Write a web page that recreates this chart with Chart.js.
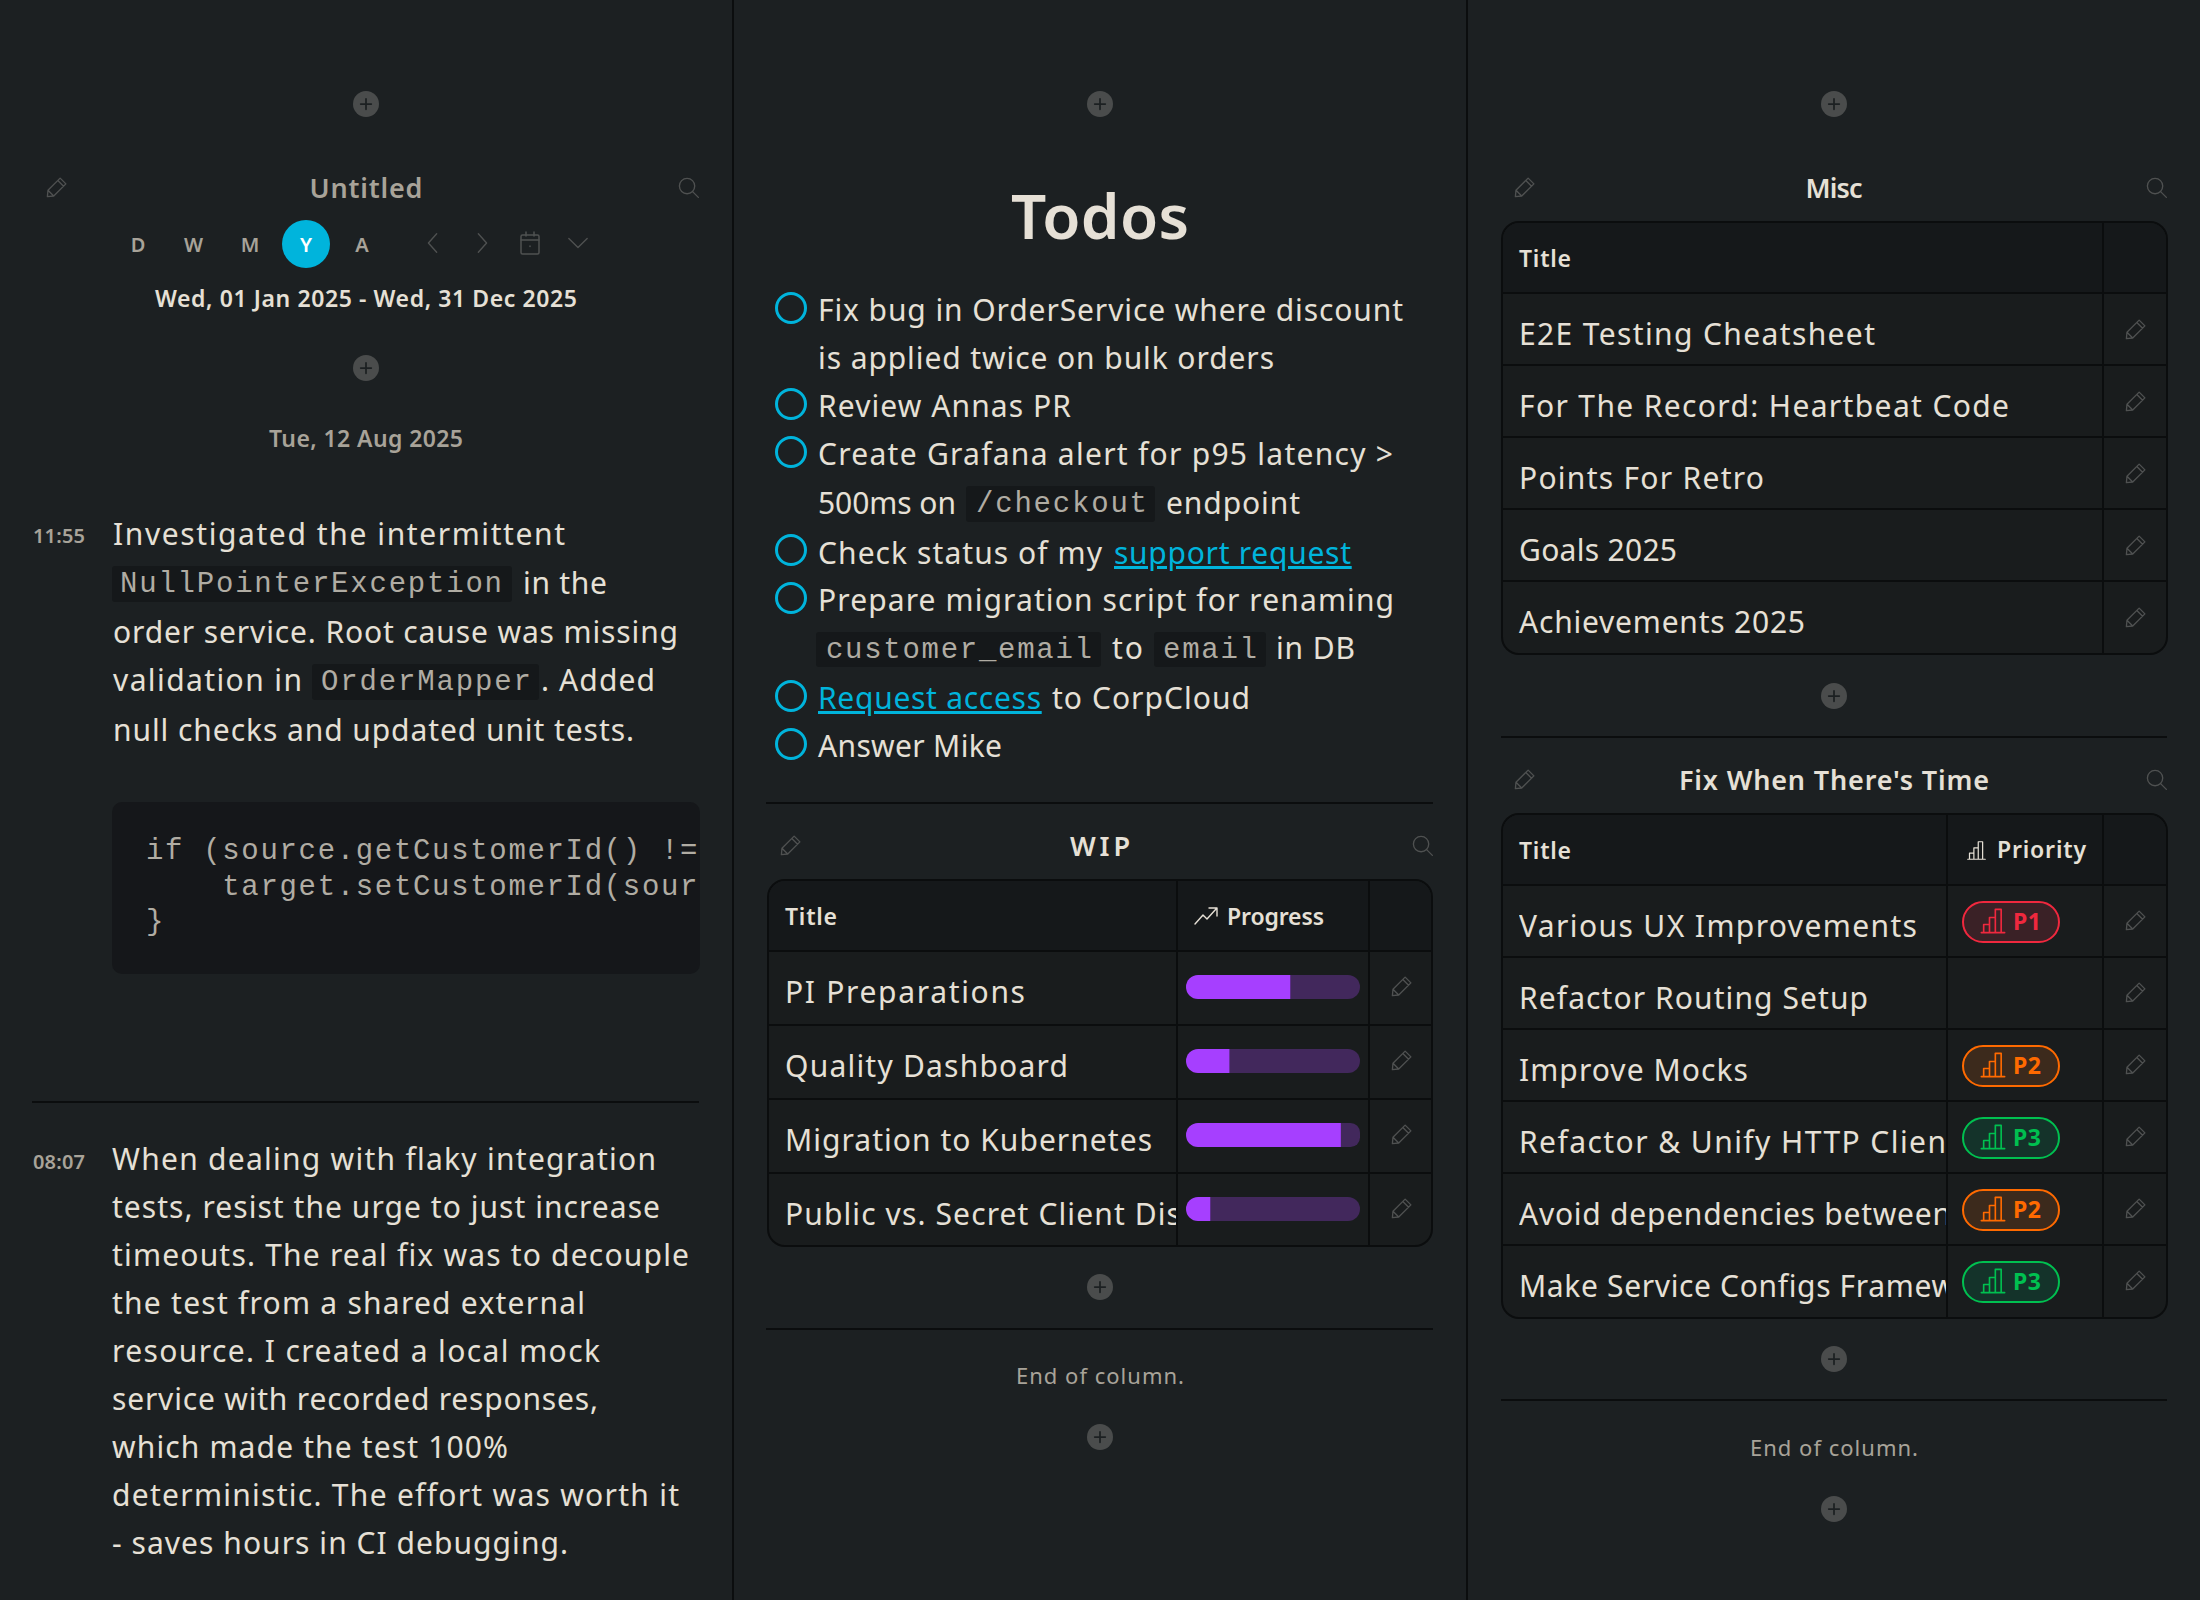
<!DOCTYPE html>
<html>
<head>
<meta charset="utf-8">
<script src="https://cdn.jsdelivr.net/npm/chart.js@4"></script>
<style>
  html, body { margin: 0; padding: 0; background: #1c2022; }
  #page { position: relative; width: 2200px; height: 1600px; overflow: hidden; background: #1c2022; font-family: "Noto Sans", Lato, sans-serif; color: #e6e0d6; }
  .t { position: absolute; white-space: pre; line-height: 40px; height: 40px; font-size: 30px; }
  .mono { font-family: "Liberation Mono", monospace; color: #b0aca3; }
  .box { position: absolute; box-sizing: border-box; }
  svg { position: absolute; overflow: visible; }
</style>
</head>
<body>
<div id="page"></div>
<script>
// data
const wipTitles = ["PI Preparations", "Quality Dashboard", "Migration to Kubernetes", "Public vs. Secret Client Dis"];
const wipWidths = [240, 283, 367, 396];
const wipProgress = [60, 25, 89, 14];
const miscTitles = ["E2E Testing Cheatsheet", "For The Record: Heartbeat Code", "Points For Retro", "Goals 2025", "Achievements 2025"];
const miscWidths = [356, 490, 245, 158, 286];
const fixTitles = ["Various UX Improvements", "Refactor Routing Setup", "Improve Mocks", "Refactor & Unify HTTP Clien", "Avoid dependencies between", "Make Service Configs Framew"];
const fixWidths = [398, 349, 229, 427, 432, 436];
const fixPriority = ["P1", null, "P2", "P3", "P2", "P3"];
const viewTabs = ["D", "W", "M", "Y", "A"];
const note1 = ["Investigated the intermittent", "order service. Root cause was missing", "null checks and updated unit tests."];
const note2 = ["When dealing with flaky integration", "tests, resist the urge to just increase", "timeouts. The real fix was to decouple", "the test from a shared external", "resource. I created a local mock", "service with recorded responses,", "which made the test 100%", "deterministic. The effort was worth it", "- saves hours in CI debugging."];
const note2Right = [656, 660, 689, 585, 600, 598, 508, 679, 568];
const codeLines = ["if (source.getCustomerId() !=", "    target.setCustomerId(sour", "}"];

const page = document.getElementById("page");
const LINE = "#0b0d0e", MUTED = "#a8a399", ICON = "#4f5151", CYAN = "#00b4dc";

function put(text, x, y, width, o) {
  o = o || {};
  const el = document.createElement(o.href ? "a" : "span");
  el.className = "t" + (o.mono ? " mono" : "");
  el.textContent = text;
  el.style.top = (y - 20 + (o.mono ? 0 : -0.5)) + "px";
  if (o.size) el.style.fontSize = o.size + "px";
  if (o.weight) el.style.fontWeight = o.weight;
  if (o.color) el.style.color = o.color;
  if (o.href) el.style.textDecoration = "underline";
  if (o.spacing != null) el.style.letterSpacing = o.spacing + "px";
  page.appendChild(el);
  if (width) {
    const w = el.getBoundingClientRect().width;
    el.style.letterSpacing = ((width - w) / (text.length - 1)) + "px";
  }
  el.style.left = (o.center ? x - width / 2 : x) + "px";
  if (o.center && !width) el.style.left = (x - el.getBoundingClientRect().width / 2) + "px";
  if (o.clip) {
    el.style.width = (o.clip - x) + "px";
    el.style.overflow = "hidden";
  }
  return el;
}

function box(x, y, w, h, bg, radius) {
  const el = document.createElement("div");
  el.className = "box";
  el.style.cssText = "left:" + x + "px;top:" + y + "px;width:" + w + "px;height:" + h + "px;background:" + bg + ";border-radius:" + (radius || 0) + "px";
  page.appendChild(el);
  return el;
}

function icon(cx, cy, size, inner, color, sw) {
  page.insertAdjacentHTML("beforeend",
    '<svg viewBox="0 0 24 24" width="' + size + '" height="' + size + '" style="left:' + (cx - size / 2) + 'px;top:' + (cy - size / 2) + 'px" fill="none" stroke="' + (color || ICON) + '" stroke-width="' + (sw || 1.5) + '" stroke-linecap="round" stroke-linejoin="round">' + inner + '</svg>');
}
const PENCIL = '<path d="M2.5 21.5l.6-6.6L15.8 2.2l6 6L9.1 20.9z M13.4 4.6l6 6 M3.1 14.9l6 6"/>';
const SEARCH = '<circle cx="10.5" cy="10.5" r="8"/><path d="M16.3 16.3l6 6"/>';
const BARS = '<path d="M2 22h20 M4 22v-7h5v7 M9 22V9h5v13 M14 22V2h5v20"/>';
function pencil(x, y) { icon(x, y, 23, PENCIL, ICON, 1.4); }
function search(x, y) { icon(x, y, 23, SEARCH, ICON, 1.4); }
function plus(x, y) {
  box(x - 13, y - 13, 26, 26, "#4a4c4c", 13);
  icon(x, y, 14, '<path d="M12 3v18 M3 12h18"/>', "#1c2022", 3);
}
function chip(x, y, w, h) { box(x, y, w, h, "#15181a", 3); }
function circle(y) {
  const c = box(791 - 16, y - 16, 32, 32, "transparent", 16);
  c.style.border = "3px solid " + CYAN;
}
function hr(x0, x1, y) { box(x0, y - 1, x1 - x0, 2, LINE); }

// column separators
box(732, 0, 2, 1600, LINE);
box(1466, 0, 2, 1600, LINE);

function panelHead(title, cx, y, pencilX, searchX, width, color) {
  pencil(pencilX, y - 1);
  search(searchX, y - 1);
  put(title, cx, y, width, { center: true, size: 27, weight: 600, color: color });
}

function table(x0, x1, top, headBottom, rowH, rows, cols, extra) {
  const bottom = headBottom + rowH * rows + (extra || 0);
  const t = box(x0, top, x1 - x0, bottom - top, "#191c1d", 18);
  t.style.border = "2px solid " + LINE;
  t.style.overflow = "hidden";
  const head = document.createElement("div");
  head.className = "box";
  head.style.cssText = "left:0;top:0;right:0;height:" + (headBottom - top - 2) + "px;background:#15181a";
  t.appendChild(head);
  for (let i = 0; i < rows; i++) hr(x0, x1, headBottom + rowH * i);
  cols.forEach(c => box(c - 1, top, 2, bottom - top, LINE));
  put("Title", x0 + 18, headBottom - 35, 52, { size: 23, weight: 600 });
}

// column 1
plus(366, 104);
panelHead("Untitled", 366, 188, 56, 688, 113, MUTED);
box(282, 220, 48, 48, CYAN, 24);
const tabX = [138, 193.5, 250, 306, 362];
viewTabs.forEach((v, i) => put(v, tabX[i], 245, 0, { center: true, size: 20, weight: 600, color: v === "Y" ? "#ffffff" : MUTED }));
icon(433, 243, 22, '<path d="M16 2L7 12l9 10"/>');
icon(482, 243, 22, '<path d="M8 2l9 10-9 10"/>');
icon(530, 243, 24, '<rect x="3" y="4" width="18" height="19" rx="1.5"/><path d="M3 9h18 M8 1v4 M16 1v4 M12 15v.5"/>');
icon(578, 243, 22, '<path d="M2 7l10 10L22 7"/>');
put("Wed, 01 Jan 2025 - Wed, 31 Dec 2025", 366, 298, 422, { center: true, size: 23, weight: 600 });
plus(366, 368);
put("Tue, 12 Aug 2025", 366, 438, 194, { center: true, size: 23, weight: 600, color: MUTED });

put("11:55", 33, 536, 52, { size: 20, weight: 600, color: MUTED });
put(note1[0], 113, 534, 452);
chip(112, 566, 400, 36);
put("NullPointerException", 120, 585, 382, { mono: true, size: 29 });
put("in the", 523, 583, 84);
put(note1[1], 113, 632, 565);
put("validation in", 113, 680, 189);
chip(312, 664, 227, 36);
put("OrderMapper", 321, 683, 210, { mono: true, size: 29 });
put(". Added", 541, 680, 114);
put(note1[2], 113, 730, 521);

box(112, 802, 588, 172, "#15171a", 10);
codeLines.forEach((line, i) => {
  put(line, 146, 852 + i * 35.5, 0, { mono: true, size: 29, spacing: 1.67, clip: 699 });
});

hr(32, 699, 1102);
put("08:07", 33, 1162, 52, { size: 20, weight: 600, color: MUTED });
note2.forEach((line, i) => put(line, 112, 1159 + i * 48, note2Right[i] - 112));

// column 2
plus(1100, 104);
put("Todos", 1100, 215.5, 178, { center: true, size: 62, weight: 600 });
[308, 404, 452, 550, 598, 696, 744].forEach(circle);
put("Fix bug in OrderService where discount", 818, 310, 585);
put("is applied twice on bulk orders", 818, 358, 456);
put("Review Annas PR", 818, 406, 253);
put("Create Grafana alert for p95 latency >", 818, 454, 575);
put("500ms on", 818, 503, 138);
chip(966, 486, 189, 36);
put("/checkout", 976, 505, 171, { mono: true, size: 29 });
put("endpoint", 1166, 503, 134);
put("Check status of my", 818, 553, 284);
put("support request", 1114, 553, 237, { color: CYAN, href: true });
put("Prepare migration script for renaming", 818, 600, 576);
chip(816, 632, 285, 35);
put("customer_email", 826, 651, 266, { mono: true, size: 29 });
put("to", 1112, 648, 31);
chip(1154, 632, 112, 35);
put("email", 1163, 651, 94, { mono: true, size: 29 });
put("in DB", 1276, 648, 79);
put("Request access", 818, 698, 223, { color: CYAN, href: true });
put("to CorpCloud", 1052, 698, 198);
put("Answer Mike", 818, 746, 184);

hr(766, 1433, 803);
panelHead("WIP", 1100, 846, 790, 1422, 60);
table(767, 1433, 879, 951, 74, 4, [1177, 1369]);
icon(1206, 916, 24, '<path d="M1 20L9 11l4 4L22 5 M15 4h8v8"/>', "#e6e0d6", 1.4);
put("Progress", 1227, 916, 97, { size: 23, weight: 600 });
wipTitles.forEach((title, i) => {
  put(title, 785, 992 + i * 74, wipWidths[i], { clip: 1176 });
  pencil(1401, 986 + i * 74);
});

// progress bars go through Chart.js
const wrap = document.createElement("div");
wrap.style.cssText = "position:absolute;left:1186px;top:950px;width:174px;height:296px";
wrap.innerHTML = '<canvas id="progress" width="174" height="296"></canvas>';
page.appendChild(wrap);
new Chart(document.getElementById("progress"), {
  type: "bar",
  data: {
    labels: wipTitles,
    datasets: [{
      data: wipProgress,
      backgroundColor: "#a63fff",
      barThickness: 24,
      borderSkipped: false,
      inflateAmount: 0,
      borderRadius: { topLeft: 12, bottomLeft: 12, topRight: 0, bottomRight: 0 }
    }, {
      data: wipProgress.map(p => 100 - p),
      backgroundColor: "#42285c",
      barThickness: 24,
      borderSkipped: false,
      inflateAmount: 0,
      borderRadius: { topLeft: 0, bottomLeft: 0, topRight: 12, bottomRight: 12 }
    }]
  },
  options: {
    indexAxis: "y",
    responsive: false,
    animation: false,
    layout: { padding: 0 },
    plugins: { legend: { display: false }, tooltip: { enabled: false } },
    scales: {
      x: { display: false, stacked: true, min: 0, max: 100 },
      y: { display: false, stacked: true }
    }
  }
});

plus(1100, 1287);
hr(766, 1433, 1329);
put("End of column.", 1100, 1375, 168, { center: true, size: 22, color: MUTED });
plus(1100, 1437);

// column 3
plus(1834, 104);
panelHead("Misc", 1834, 188, 1524, 2156, 57);
table(1501, 2168, 221, 293, 72, 5, [2103], 2);
miscTitles.forEach((title, i) => {
  put(title, 1519, 334 + i * 72, miscWidths[i]);
  pencil(2135, 329 + i * 72);
});
plus(1834, 696);
hr(1501, 2167, 737);
panelHead("Fix When There's Time", 1834, 780, 1524, 2156, 310);
table(1501, 2168, 813, 885, 72, 6, [1947, 2103], 2);
icon(1976, 850, 21, BARS, "#e6e0d6", 1.4);
put("Priority", 1997, 849, 89, { size: 23, weight: 600 });
const badgeColors = { P1: ["#f0283e", "#3a2126"], P2: ["#ff6a00", "#3c2a1c"], P3: ["#00c050", "#14332a"] };
fixTitles.forEach((title, i) => {
  put(title, 1519, 926 + i * 72, fixWidths[i], { clip: 1946 });
  pencil(2135, 920 + i * 72);
  const p = fixPriority[i];
  if (p) {
    const b = box(1962, 901 + i * 72, 98, 42, badgeColors[p][1], 21);
    b.style.border = "2px solid " + badgeColors[p][0];
    icon(1993, 921 + i * 72, 28, BARS, badgeColors[p][0], 1.4);
    put(p, 2013, 921 + i * 72, 28, { size: 23, weight: 700, color: badgeColors[p][0] });
  }
});
plus(1834, 1359);
hr(1501, 2167, 1400);
put("End of column.", 1834, 1447, 168, { center: true, size: 22, color: MUTED });
plus(1834, 1509);
</script>
</body>
</html>
